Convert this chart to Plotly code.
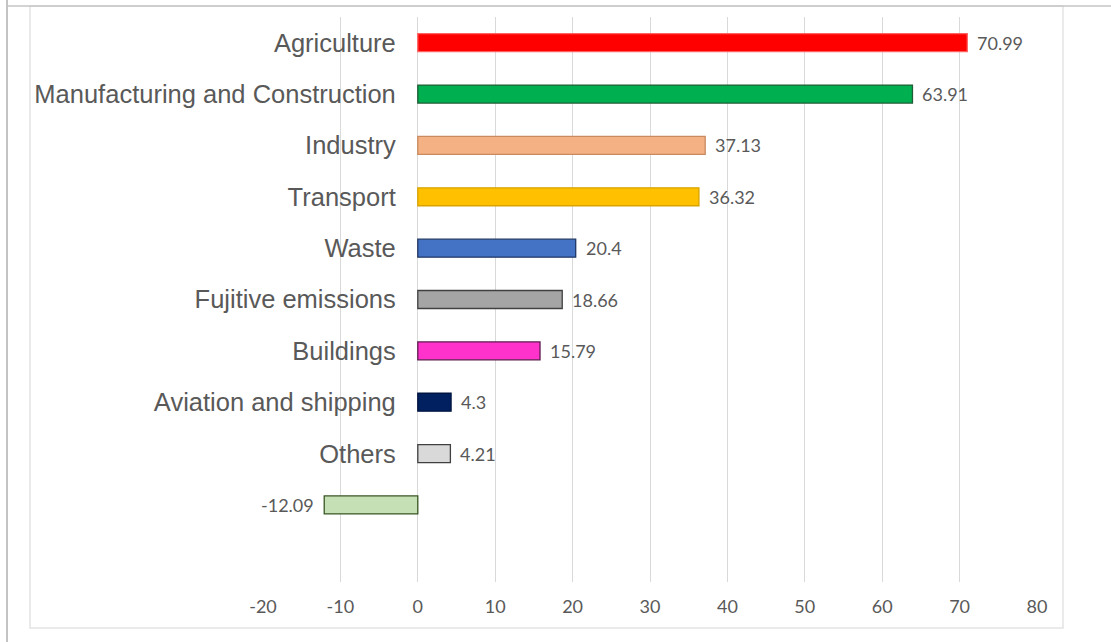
import plotly.graph_objects as go

categories = ["Agriculture", "Manufacturing and Construction", "Industry", "Transport",
              "Waste", "Fujitive emissions", "Buildings", "Aviation and shipping", "Others", ""]
values = [70.99, 63.91, 37.13, 36.32, 20.4, 18.66, 15.79, 4.3, 4.21, -12.09]
fill_colors = ["#FF0000", "#00B050", "#F4B183", "#FFC000", "#4472C4", "#A5A5A5",
               "#FF33CC", "#002060", "#D9D9D9", "#C5E0B4"]
line_colors = ["#FF6060", "#1F5C35", "#C98A60", "#D9A300", "#1F3864", "#404040",
               "#5E1A4E", "#001540", "#404040", "#385723"]
x_ticks = [-20, -10, 0, 10, 20, 30, 40, 50, 60, 70, 80]
x_tick_labels = ["-20", "-10", "0", "10", "20", "30", "40", "50", "60", "70", "80"]
n_slots = 11  # one empty slot below the last bar

W, H = 1111, 642
L, R, T, B = 263, 1037, 17, 582

ypos = list(range(len(categories)))

fig = go.Figure()
fig.add_trace(go.Bar(
    x=values, y=ypos, orientation="h", width=0.35,
    marker=dict(color=fill_colors, line=dict(color=line_colors, width=1.3)),
    hoverinfo="x+y", showlegend=False,
))

annotations = []
for v, y in zip(values, ypos):
    annotations.append(dict(
        x=v, y=y, xref="x", yref="y", text=f"{v:g}", showarrow=False,
        xanchor="left" if v >= 0 else "right", yanchor="middle",
        xshift=8 if v >= 0 else -8,
        font=dict(family="Lato, Open Sans, sans-serif", size=18, color="#595959"),
    ))

def px_x(px):
    return (px - L) / (R - L)

def px_y(py):
    return (B - py) / (B - T)

shapes = [
    # inner light frame
    dict(type="rect", xref="paper", yref="paper",
         x0=px_x(30), x1=px_x(1063), y0=px_y(628), y1=px_y(6),
         line=dict(color="#E3E3E3", width=1.5), layer="below"),
    # outer darker edges (left and top)
    dict(type="line", xref="paper", yref="paper",
         x0=px_x(7), x1=px_x(7), y0=px_y(642), y1=px_y(0),
         line=dict(color="#C4C4C4", width=2)),
    dict(type="line", xref="paper", yref="paper",
         x0=px_x(6), x1=px_x(1111), y0=px_y(6), y1=px_y(6),
         line=dict(color="#C4C4C4", width=1.5)),
]

x_min, x_max = x_ticks[0], x_ticks[-1]
zero_pos = (0 - x_min) / (x_max - x_min)

fig.update_layout(
    width=W, height=H,
    margin=dict(l=L, r=W - R, t=T, b=H - B),
    paper_bgcolor="white", plot_bgcolor="white",
    xaxis=dict(range=[x_min, x_max], tickvals=x_ticks, ticktext=x_tick_labels, showgrid=True,
               gridcolor="#D9D9D9", gridwidth=1, zeroline=False, showline=False,
               ticks="", ticklabelstandoff=12,
               tickfont=dict(family="Lato, Open Sans, sans-serif", size=18, color="#595959"),
               fixedrange=True),
    yaxis=dict(range=[n_slots - 0.5, -0.5], tickvals=ypos, ticktext=categories,
               anchor="free", position=zero_pos, showgrid=False, zeroline=False,
               showline=False, ticks="", ticklabelstandoff=22,
               tickfont=dict(family="Liberation Sans, Arial, sans-serif", size=25.5, color="#595959"),
               fixedrange=True),
    annotations=annotations,
    shapes=shapes,
    bargap=0.65,
)

fig.write_html("out.html")
